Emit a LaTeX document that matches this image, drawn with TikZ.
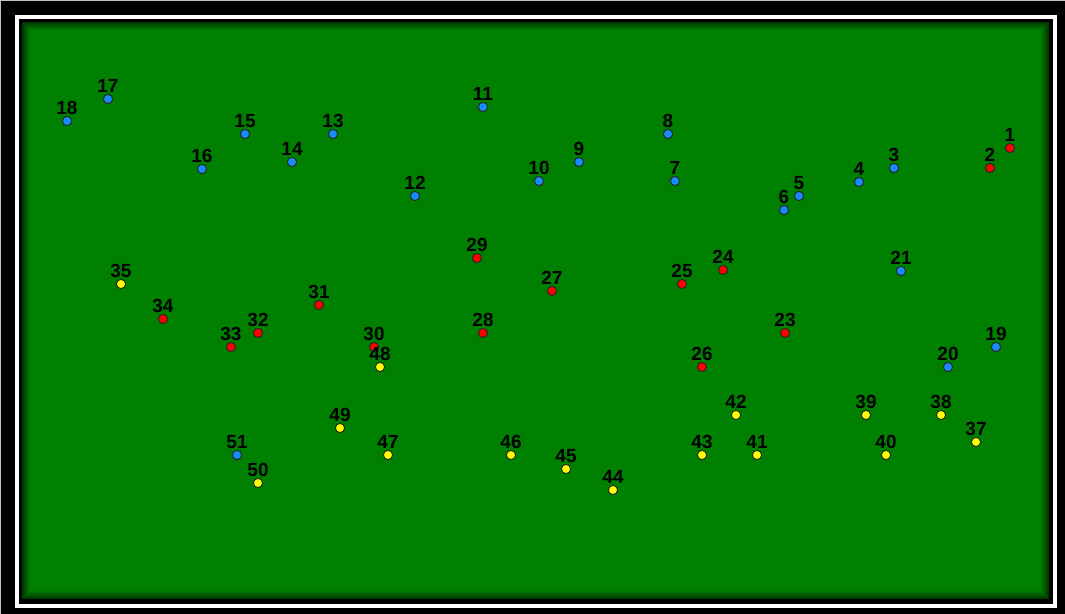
\documentclass[tikz,border=0pt]{standalone}
\usepackage{fontspec}
\setmainfont{Liberation Sans}
\usetikzlibrary{positioning}
\definecolor{field}{RGB}{0,128,0}
\definecolor{dotblue}{RGB}{24,140,255}
\definecolor{dotred}{RGB}{255,0,0}
\definecolor{dotyellow}{RGB}{255,255,0}
\tikzset{spot/.style={circle, draw=black!85, line width=0.55pt, inner sep=0pt,
    minimum size=0.185cm}}
\tikzset{spotnum/.style={font=\fontsize{10.8}{12}\selectfont\bfseries,
    inner sep=0pt, text=black}}

\begin{document}
\begin{tikzpicture}[x=0.02cm, y=-0.02cm]
  \useasboundingbox (0,0) rectangle (1065,614);
  % frame
  \fill[black] (0,0) rectangle (1065,614);
  \draw[black!25, line width=0.04cm] (0,614) -- (0,0) -- (1065,0);
  \draw[white, line width=0.07cm] (17,17) rectangle (1055,606);
  \fill[field] (22,22) rectangle (1049,599);
  % inner shadow
  \foreach \i in {0,...,7}
    \draw[black, line width=0.02cm, opacity={0.56-0.07*\i}]
      ({22.5+\i},{22.5+\i}) rectangle ({1048.5-\i},{598.5-\i});
  % spots
  \foreach \n/\x/\y/\c in {1/1010/148/dotred, 2/990/168/dotred,
      3/894/168/dotblue, 4/859/182/dotblue, 5/799/196/dotblue,
      6/784/210/dotblue, 7/675/181/dotblue, 8/668/134/dotblue,
      9/579/162/dotblue, 10/539/181/dotblue, 11/483/107/dotblue,
      12/415/196/dotblue, 13/333/134/dotblue, 14/292/162/dotblue,
      15/245/134/dotblue, 16/202/169/dotblue, 17/108/99/dotblue,
      18/67/121/dotblue, 19/996/347/dotblue, 20/948/367/dotblue,
      21/901/271/dotblue, 23/785/333/dotred, 24/723/270/dotred,
      25/682/284/dotred, 26/702/367/dotred, 27/552/291/dotred,
      28/483/333/dotred, 29/477/258/dotred, 30/374/347/dotred,
      31/319/305/dotred, 32/258/333/dotred, 33/231/347/dotred,
      34/163/319/dotred, 35/121/284/dotyellow, 37/976/442/dotyellow,
      38/941/415/dotyellow, 39/866/415/dotyellow, 40/886/455/dotyellow,
      41/757/455/dotyellow, 42/736/415/dotyellow, 43/702/455/dotyellow,
      44/613/490/dotyellow, 45/566/469/dotyellow, 46/511/455/dotyellow,
      47/388/455/dotyellow, 48/380/367/dotyellow, 49/340/428/dotyellow,
      50/258/483/dotyellow, 51/237/455/dotblue}
  {
    \node[spot, fill=\c] (s\n) at (\x,\y) {};
    \node[spotnum, above=0.025cm of s\n] (n\n) {\n};
  }
\end{tikzpicture}
\end{document}
